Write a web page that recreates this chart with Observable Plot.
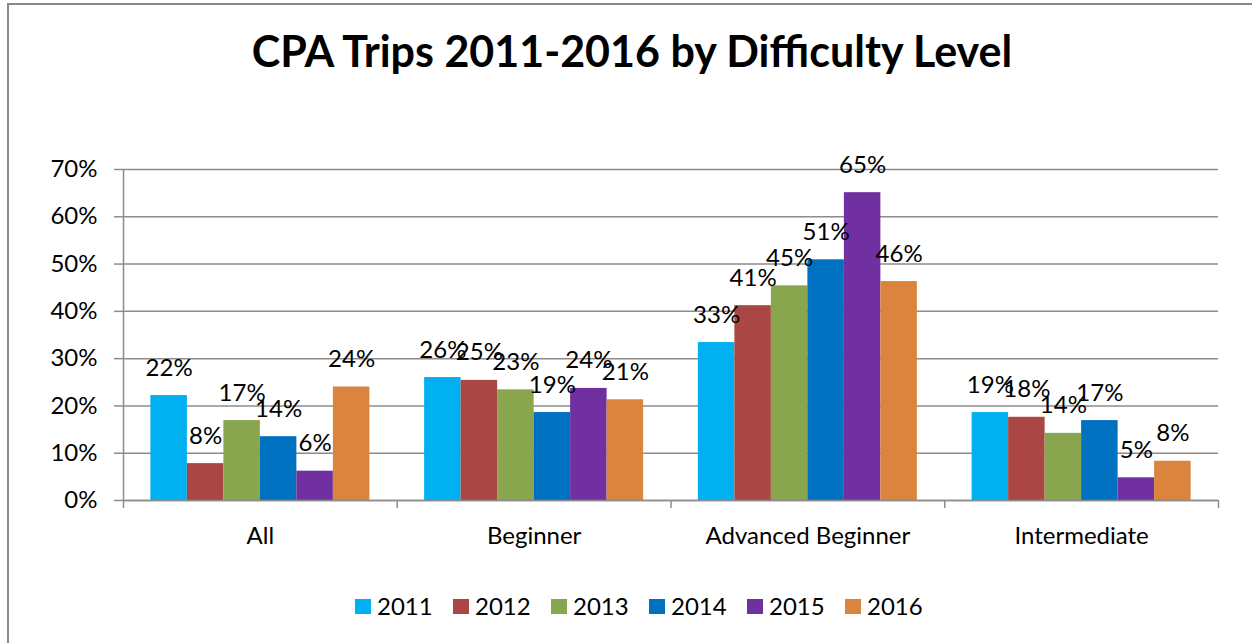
<!DOCTYPE html>
<html>
<head>
<meta charset="utf-8">
<script src="https://cdn.jsdelivr.net/npm/d3@7"></script>
<script src="https://cdn.jsdelivr.net/npm/@observablehq/plot@0.6"></script>
<style>
  html, body { margin: 0; padding: 0; background: #fff; }
  body { width: 1252px; height: 643px; overflow: hidden; position: relative; font-family: Lato, "Open Sans", sans-serif; color: #000; }
  #frame { position: absolute; left: 7px; top: 3px; width: 1400px; height: 800px; border-left: 2px solid #8a8a8a; border-top: 2px solid #8a8a8a; pointer-events: none; }
  #title { height: 130px; box-sizing: border-box; padding-top: 29px; padding-left: 12px; text-align: center; font-size: 43px; line-height: 43px; font-weight: 700; white-space: nowrap; }
  #chart svg { display: block; overflow: visible; }
  #legend { display: flex; padding-left: 355px; padding-top: 39px; font-size: 24px; line-height: 24px; }
  .item { display: flex; align-items: center; width: 98px; }
  .sw { width: 16px; height: 15px; margin-right: 6px; }
</style>
</head>
<body>
<div id="frame"></div>
<div id="title">CPA Trips 2011-2016 by Difficulty Level</div>
<div id="chart"></div>
<div id="legend"></div>
<script>
const categories = ["All", "Beginner", "Advanced Beginner", "Intermediate"];
const years = ["2011", "2012", "2013", "2014", "2015", "2016"];
const colors = ["#00B0F0", "#AA4643", "#89A54E", "#0070C0", "#7030A0", "#DB843D"];
// percent values per year, in category order
const s2011 = [22.2, 26.0, 33.4, 18.6];
const s2012 = [7.8, 25.4, 41.2, 17.6];
const s2013 = [16.9, 23.4, 45.4, 14.2];
const s2014 = [13.5, 18.6, 50.9, 16.9];
const s2015 = [6.2, 23.7, 65.1, 4.8];
const s2016 = [24.0, 21.3, 46.3, 8.3];
const yTicks = [0, 10, 20, 30, 40, 50, 60, 70];

const series = [s2011, s2012, s2013, s2014, s2015, s2016];
const groupPad = 0.1;
const barW = (1 - 2 * groupPad) / years.length;
const rows = [];
categories.forEach((c, ci) => {
  years.forEach((y, yi) => {
    const x1 = ci + groupPad + yi * barW;
    rows.push({cat: c, year: y, value: series[yi][ci], x1, x2: x1 + barW, xm: x1 + barW / 2});
  });
});
const gray = "#8c8c8c";
const chart = Plot.plot({
  width: 1252,
  height: 425,
  marginLeft: 123,
  marginRight: 34,
  marginTop: 39,
  marginBottom: 55,
  style: {fontFamily: "Lato, 'Open Sans', sans-serif", fontSize: "24px", color: "#000", background: "transparent"},
  x: {type: "linear", domain: [0, categories.length], axis: null, label: null},
  y: {domain: [0, 70], axis: null, label: null},
  color: {domain: years, range: colors},
  marks: [
    Plot.gridY(yTicks, {stroke: gray, strokeOpacity: 1, strokeWidth: 1.5}),
    Plot.axisY(yTicks, {label: null, tickSize: 9, tickPadding: 17, tickFormat: d => d + "%", stroke: gray, strokeWidth: 1.5, fill: "#000", fontSize: 24}),
    Plot.rectY(rows, {x1: "x1", x2: "x2", y: "value", fill: "year"}),
    Plot.ruleX([0], {stroke: gray, strokeWidth: 1.5}),
    Plot.ruleY([0], {stroke: gray, strokeWidth: 1.5}),
    Plot.axisX(d3.range(categories.length + 1), {label: null, tickSize: 8, tickFormat: () => "", stroke: gray, strokeWidth: 1.5}),
    Plot.axisX(categories.map((_, i) => i + 0.5), {label: null, tickSize: 0, tickPadding: 26, tickFormat: d => categories[Math.floor(d)], fill: "#000", fontSize: 24}),
    Plot.text(rows, {x: "xm", y: "value", text: d => Math.round(d.value) + "%", lineAnchor: "bottom", dy: -20, fill: "#000", fontSize: 24})
  ]
});
document.getElementById("chart").appendChild(chart);

const legend = document.getElementById("legend");
years.forEach((y, i) => {
  const it = document.createElement("div");
  it.className = "item";
  const sw = document.createElement("div");
  sw.className = "sw";
  sw.style.background = colors[i];
  const t = document.createElement("span");
  t.textContent = y;
  it.appendChild(sw); it.appendChild(t);
  legend.appendChild(it);
});
</script>
</body>
</html>
